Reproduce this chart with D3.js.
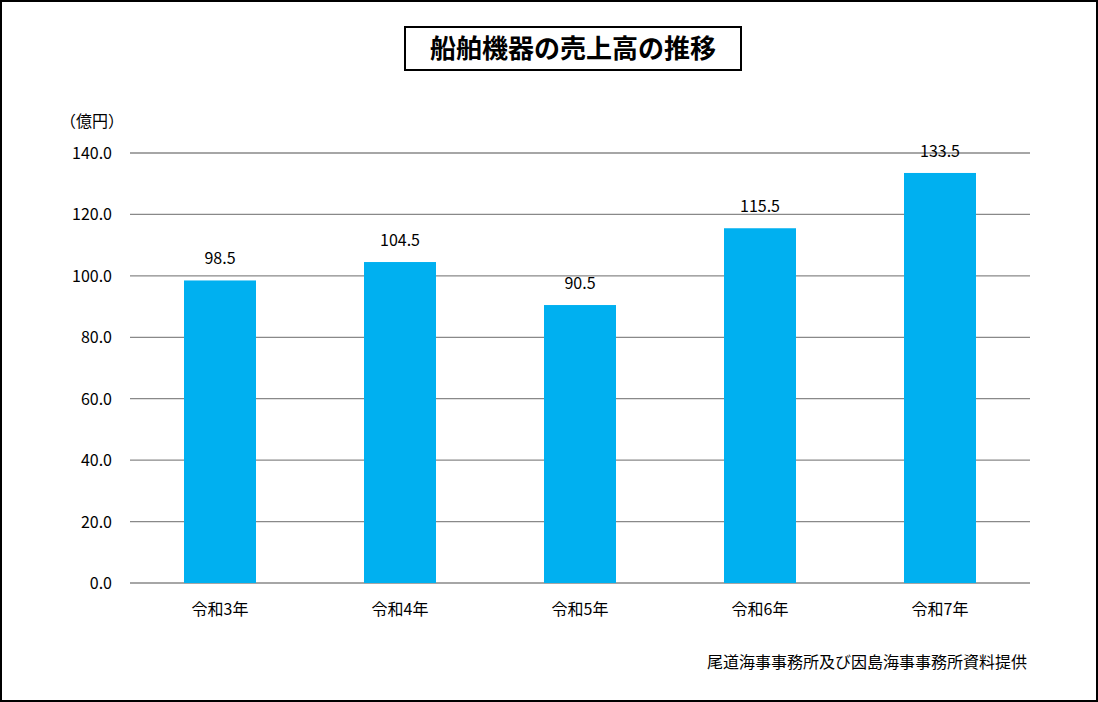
<!DOCTYPE html>
<meta charset="utf-8">
<script src="https://d3js.org/d3.v7.min.js"></script>
<style>
body { margin: 0; }
text { font-family: "Noto Sans CJK JP", "Noto Sans", sans-serif; fill: #000; }
</style>
<body>
<script>
var categories = ["令和3年", "令和4年", "令和5年", "令和6年", "令和7年"];
var values = [98.5, 104.5, 90.5, 115.5, 133.5];
var yTicks = [0, 20, 40, 60, 80, 100, 120, 140];

var width = 1098, height = 702;
var plotLeft = 130, plotRight = 1030, plotTop = 153, plotBottom = 583;

var svg = d3.select("body").append("svg")
    .attr("width", width)
    .attr("height", height);

svg.append("rect")
    .attr("x", 1).attr("y", 1)
    .attr("width", width - 2).attr("height", height - 2)
    .attr("fill", "#fff").attr("stroke", "#000").attr("stroke-width", 2);

// title
svg.append("rect")
    .attr("x", 405).attr("y", 27).attr("width", 336).attr("height", 43)
    .attr("fill", "#fff").attr("stroke", "#000").attr("stroke-width", 2);
svg.append("text")
    .attr("x", 573).attr("y", 58)
    .attr("text-anchor", "middle")
    .attr("font-size", 26).attr("font-weight", "bold")
    .text("船舶機器の売上高の推移");

var x = d3.scaleBand().domain(categories).range([plotLeft, plotRight]).paddingInner(0.6).paddingOuter(0.3);
var y = d3.scaleLinear().domain([0, 140]).range([plotBottom, plotTop]);

// gridlines
svg.selectAll("line.grid")
    .data(yTicks)
    .enter()
    .append("line")
    .attr("x1", plotLeft).attr("x2", plotRight)
    .attr("y1", function(d) { return y(d); })
    .attr("y2", function(d) { return y(d); })
    .attr("stroke", "#898989").attr("stroke-width", 1.3);

svg.selectAll("text.ytick")
    .data(yTicks)
    .enter()
    .append("text")
    .attr("x", 112)
    .attr("y", function(d) { return y(d) + 6; })
    .attr("text-anchor", "end")
    .attr("font-size", 16)
    .text(function(d) { return d.toFixed(1); });

svg.append("text")
    .attr("x", 60).attr("y", 127)
    .attr("font-size", 16)
    .text("（億円）");

svg.selectAll("rect.bar")
    .data(values)
    .enter()
    .append("rect")
    .attr("x", function(d, i) { return x(categories[i]); })
    .attr("width", x.bandwidth())
    .attr("y", function(d) { return y(d); })
    .attr("height", function(d) { return plotBottom - y(d); })
    .attr("fill", "#00B0F0");

svg.selectAll("text.val")
    .data(values)
    .enter()
    .append("text")
    .attr("x", function(d, i) { return x(categories[i]) + x.bandwidth() / 2; })
    .attr("y", function(d) { return y(d) - 16; })
    .attr("text-anchor", "middle")
    .attr("font-size", 16)
    .text(function(d) { return d.toFixed(1); });

svg.selectAll("text.cat")
    .data(categories)
    .enter()
    .append("text")
    .attr("x", function(d) { return x(d) + x.bandwidth() / 2; })
    .attr("y", 615)
    .attr("text-anchor", "middle")
    .attr("font-size", 16)
    .text(function(d) { return d; });

svg.append("text")
    .attr("x", 1027).attr("y", 668)
    .attr("text-anchor", "end")
    .attr("font-size", 16)
    .text("尾道海事事務所及び因島海事事務所資料提供");
</script>
</body>
